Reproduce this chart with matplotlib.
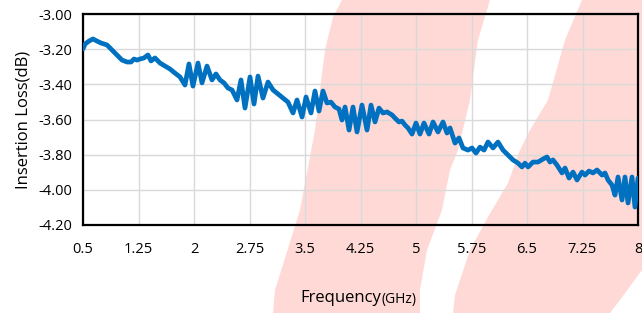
import matplotlib.pyplot as plt
from matplotlib.patches import Polygon

plt.rcParams['font.family'] = ['Open Sans', 'DejaVu Sans']

# frequency (GHz) and insertion loss (dB)
freq = [0.500, 0.527, 0.581, 0.635, 0.689, 0.743, 0.824, 0.892, 0.959, 1.027,
        1.095, 1.149, 1.189, 1.230, 1.270, 1.324, 1.378, 1.419, 1.473, 1.541,
        1.608, 1.676, 1.743, 1.811, 1.878, 1.932, 1.986, 2.054, 2.108, 2.176,
        2.243, 2.297, 2.351, 2.405, 2.459, 2.514, 2.581, 2.635, 2.689, 2.757,
        2.811, 2.865, 2.932, 3.000, 3.068, 3.135, 3.203, 3.270, 3.338, 3.392,
        3.460, 3.514, 3.581, 3.635, 3.689, 3.743, 3.797, 3.851, 3.905, 3.959,
        4.000, 4.041, 4.095, 4.149, 4.203, 4.270, 4.338, 4.392, 4.446, 4.500,
        4.554, 4.608, 4.676, 4.716, 4.770, 4.811, 4.851, 4.892, 4.946, 5.000,
        5.054, 5.108, 5.176, 5.230, 5.297, 5.365, 5.419, 5.460, 5.527, 5.581,
        5.635, 5.703, 5.757, 5.811, 5.865, 5.919, 5.973, 6.041, 6.108, 6.176,
        6.243, 6.311, 6.378, 6.432, 6.473, 6.514, 6.581, 6.649, 6.716, 6.770,
        6.811, 6.851, 6.905, 6.973, 7.014, 7.068, 7.122, 7.176, 7.243, 7.284,
        7.338, 7.392, 7.446, 7.514, 7.554, 7.595, 7.649, 7.689, 7.730, 7.784,
        7.824, 7.865, 7.919, 7.959, 8.000]
loss = [-3.199, -3.171, -3.154, -3.142, -3.154, -3.165, -3.176, -3.205, -3.233, -3.262,
        -3.273, -3.273, -3.256, -3.262, -3.256, -3.250, -3.233, -3.267, -3.250, -3.279,
        -3.296, -3.313, -3.336, -3.358, -3.404, -3.284, -3.410, -3.279, -3.392, -3.296,
        -3.375, -3.341, -3.375, -3.392, -3.421, -3.432, -3.489, -3.375, -3.535, -3.358,
        -3.512, -3.353, -3.478, -3.387, -3.432, -3.455, -3.478, -3.501, -3.563, -3.489,
        -3.586, -3.472, -3.563, -3.438, -3.552, -3.438, -3.506, -3.501, -3.529, -3.540,
        -3.603, -3.529, -3.660, -3.529, -3.671, -3.518, -3.660, -3.518, -3.614, -3.535,
        -3.563, -3.557, -3.574, -3.592, -3.614, -3.609, -3.631, -3.648, -3.683, -3.620,
        -3.683, -3.620, -3.683, -3.614, -3.671, -3.614, -3.677, -3.648, -3.734, -3.705,
        -3.762, -3.774, -3.762, -3.791, -3.757, -3.774, -3.728, -3.762, -3.728, -3.774,
        -3.802, -3.830, -3.848, -3.870, -3.848, -3.870, -3.842, -3.842, -3.825, -3.813,
        -3.842, -3.830, -3.859, -3.904, -3.876, -3.933, -3.899, -3.944, -3.899, -3.916,
        -3.893, -3.904, -3.887, -3.916, -3.904, -3.944, -3.973, -4.030, -3.927, -4.058,
        -3.927, -4.075, -3.927, -4.098, -3.933]

xticks = [0.5, 1.25, 2, 2.75, 3.5, 4.25, 5, 5.75, 6.5, 7.25, 8]
xticklabels = ['0.5', '1.25', '2', '2.75', '3.5', '4.25', '5', '5.75', '6.5', '7.25', '8']
yticks = [-3.0, -3.2, -3.4, -3.6, -3.8, -4.0, -4.2]

fig = plt.figure(figsize=(6.42, 3.13), dpi=100)
ax = fig.add_axes([83/642, 1 - 225/313, 555/642, 211/313])
ax.set_facecolor('none')

# pink background bands (figure pixel outline, y from top)
band1 = [(342, 0), (490, 0), (478, 40), (470, 100), (458, 150), (450, 170), (442, 210),
         (427, 250), (420, 290), (420, 313), (273, 313), (275, 290), (300, 210),
         (315, 130), (325, 50), (333, 17)]
band2 = [(582, 0), (642, 0), (642, 270), (620, 300), (610, 313), (453, 313), (455, 295),
         (470, 250), (488, 217), (508, 183), (520, 150), (530, 130), (548, 100), (565, 40)]
for band in [band1, band2]:
    pts = [(x / 642, 1 - y / 313) for x, y in band]
    fig.patches.append(Polygon(pts, closed=True, transform=fig.transFigure,
                               facecolor='#ffd9d6', edgecolor='none', zorder=-1))

ax.plot(freq, loss, color='#0070c0', lw=3.4, solid_joinstyle='round',
        solid_capstyle='round', zorder=3)

ax.set_xlim(0.5, 8)
ax.set_ylim(-4.2, -3.0)
ax.set_xticks(xticks, xticklabels)
ax.set_yticks(yticks, [f'{v:.2f}' for v in yticks])
ax.grid(True, color='#d9d9d9', lw=1.0)
ax.set_axisbelow(True)
ax.tick_params(length=0, labelsize=10.5)
ax.tick_params(axis='x', pad=12)
ax.tick_params(axis='y', pad=8)
for s in ax.spines.values():
    s.set_linewidth(1.6)
    s.set_color('black')

ax.set_ylabel('Insertion Loss(dB)', fontsize=12, labelpad=5)
fig.text(381/642, 1 - 298/313, 'Frequency', ha='right', va='center', fontsize=12)
fig.text(381/642, 1 - 299/313, '(GHz)', ha='left', va='center', fontsize=10)

fig.savefig('out.png', dpi=100)
